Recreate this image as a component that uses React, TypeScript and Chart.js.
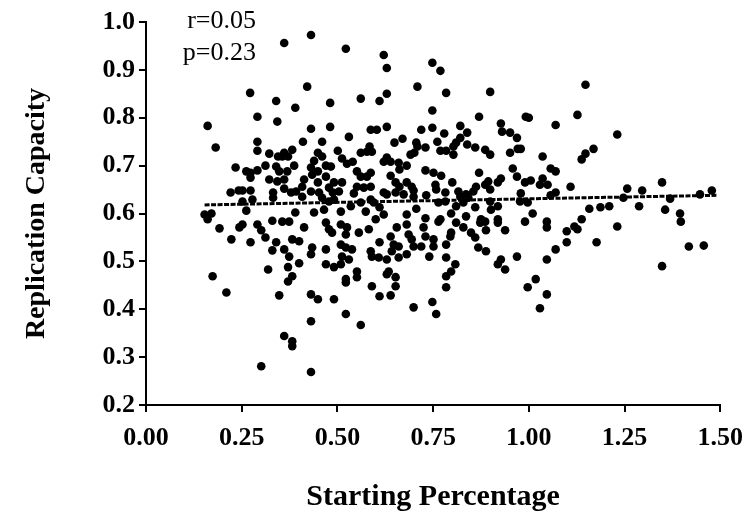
import React, { useEffect, useRef } from 'react';
import { Chart, registerables } from 'chart.js';
Chart.register(...registerables);

// [starting percentage, replication capacity]
const samples: [number, number][] = [
  [0.272,0.852],[0.340,0.835],[0.291,0.802],[0.161,0.783],[0.343,0.792],[0.182,0.738],[0.291,0.750],[0.291,0.731],[0.322,0.725],[0.345,0.719],[0.312,0.700],[0.340,0.698],[0.234,0.696],[0.262,0.688],[0.273,0.685],[0.291,0.690],[0.273,0.675],[0.322,0.671],[0.343,0.667],[0.221,0.644],[0.242,0.648],[0.252,0.648],[0.273,0.648],[0.332,0.644],[0.332,0.633],[0.252,0.625],[0.278,0.629],[0.153,0.598],[0.171,0.600],[0.262,0.606],
  [0.431,0.973],[0.361,0.956],[0.522,0.944],[0.421,0.865],[0.390,0.821],[0.481,0.831],[0.561,0.840],[0.431,0.777],[0.481,0.781],[0.410,0.750],[0.460,0.750],[0.530,0.760],[0.382,0.733],[0.361,0.727],[0.356,0.719],[0.371,0.719],[0.449,0.727],[0.460,0.719],[0.501,0.731],[0.561,0.727],[0.387,0.700],[0.439,0.710],[0.512,0.715],[0.525,0.704],[0.540,0.708],[0.470,0.700],[0.483,0.698],[0.431,0.696],[0.348,0.688],[0.369,0.688],[0.449,0.688],[0.434,0.681],[0.470,0.677],[0.551,0.688],[0.561,0.677],[0.413,0.671],[0.361,0.671],[0.449,0.665],[0.491,0.665],[0.512,0.665],[0.408,0.656],[0.392,0.646],[0.379,0.644],[0.361,0.652],[0.431,0.646],[0.452,0.644],[0.478,0.654],[0.488,0.644],[0.504,0.646],[0.551,0.656],[0.543,0.642],[0.408,0.635],[0.460,0.633],[0.478,0.625],[0.491,0.629],[0.561,0.623],[0.535,0.615],[0.390,0.602],[0.439,0.602],[0.465,0.608],[0.509,0.604],
  [0.621,0.931],[0.629,0.904],[0.748,0.915],[0.769,0.898],[0.709,0.865],[0.784,0.852],[0.629,0.850],[0.610,0.835],[0.748,0.815],[0.587,0.775],[0.603,0.775],[0.629,0.781],[0.719,0.775],[0.748,0.779],[0.779,0.767],[0.649,0.748],[0.670,0.756],[0.706,0.748],[0.709,0.740],[0.761,0.750],[0.584,0.740],[0.590,0.729],[0.577,0.729],[0.730,0.738],[0.769,0.731],[0.784,0.731],[0.691,0.723],[0.701,0.727],[0.629,0.717],[0.621,0.708],[0.639,0.708],[0.660,0.706],[0.662,0.692],[0.681,0.700],[0.587,0.685],[0.577,0.677],[0.730,0.690],[0.751,0.685],[0.771,0.679],[0.639,0.679],[0.652,0.665],[0.662,0.656],[0.681,0.665],[0.694,0.656],[0.699,0.648],[0.569,0.654],[0.587,0.656],[0.621,0.644],[0.629,0.640],[0.756,0.660],[0.758,0.650],[0.782,0.644],[0.587,0.629],[0.595,0.623],[0.652,0.644],[0.673,0.640],[0.699,0.635],[0.732,0.638],[0.764,0.623],[0.782,0.625],[0.574,0.604],[0.610,0.613],[0.621,0.598],[0.681,0.598],[0.706,0.610],
  [0.899,0.854],[0.870,0.802],[0.992,0.802],[1.000,0.800],[0.821,0.783],[0.927,0.788],[0.930,0.771],[0.951,0.769],[0.839,0.769],[0.969,0.758],[0.821,0.758],[0.810,0.748],[0.803,0.740],[0.839,0.744],[0.860,0.738],[0.886,0.733],[0.899,0.723],[0.971,0.735],[0.979,0.735],[0.951,0.727],[0.803,0.723],[0.958,0.694],[0.870,0.685],[0.969,0.677],[0.927,0.673],[0.990,0.665],[1.005,0.669],[0.800,0.665],[0.894,0.667],[0.886,0.660],[0.899,0.650],[0.919,0.665],[0.862,0.656],[0.855,0.646],[0.979,0.642],[0.816,0.646],[0.821,0.635],[0.836,0.640],[0.842,0.633],[0.829,0.623],[0.810,0.615],[0.899,0.625],[0.901,0.608],[0.860,0.613],[0.919,0.615],[0.977,0.625],[0.997,0.623],[0.797,0.600],
  [1.148,0.869],[1.127,0.806],[1.070,0.785],[1.231,0.765],[1.036,0.719],[1.169,0.735],[1.148,0.725],[1.138,0.713],[1.057,0.694],[1.070,0.688],[1.036,0.673],[1.029,0.660],[1.049,0.660],[1.109,0.656],[1.057,0.638],[1.070,0.644],[1.010,0.600],[1.158,0.610],[1.187,0.613],[1.210,0.615],
  [1.348,0.665],[1.257,0.652],[1.296,0.648],[1.247,0.633],[1.369,0.631],[1.447,0.640],[1.478,0.648],[1.288,0.615],[1.356,0.608],[1.395,0.600],
  [0.161,0.588],[0.192,0.569],[0.244,0.571],[0.252,0.577],[0.291,0.577],[0.301,0.565],[0.312,0.550],[0.330,0.585],[0.340,0.540],[0.330,0.523],[0.223,0.546],[0.273,0.540],[0.319,0.483],[0.174,0.469],[0.210,0.435],[0.348,0.429],[0.301,0.281],
  [0.374,0.583],[0.356,0.583],[0.413,0.571],[0.470,0.581],[0.478,0.567],[0.486,0.560],[0.509,0.577],[0.525,0.571],[0.522,0.556],[0.556,0.560],[0.382,0.546],[0.400,0.542],[0.434,0.529],[0.431,0.515],[0.361,0.525],[0.374,0.510],[0.470,0.525],[0.509,0.535],[0.522,0.529],[0.538,0.525],[0.512,0.510],[0.530,0.504],[0.400,0.496],[0.470,0.494],[0.491,0.488],[0.509,0.494],[0.371,0.488],[0.382,0.469],[0.371,0.458],[0.522,0.463],[0.522,0.456],[0.551,0.479],[0.551,0.467],[0.431,0.431],[0.449,0.421],[0.491,0.421],[0.522,0.390],[0.431,0.375],[0.561,0.367],[0.361,0.344],[0.382,0.333],[0.382,0.323],[0.431,0.269],
  [0.600,0.588],[0.730,0.590],[0.725,0.571],[0.764,0.583],[0.769,0.588],[0.582,0.567],[0.655,0.571],[0.639,0.552],[0.647,0.535],[0.660,0.531],[0.681,0.577],[0.686,0.556],[0.694,0.546],[0.699,0.531],[0.730,0.552],[0.719,0.531],[0.751,0.546],[0.751,0.531],[0.784,0.535],[0.610,0.540],[0.587,0.521],[0.590,0.510],[0.642,0.521],[0.608,0.508],[0.629,0.504],[0.660,0.508],[0.681,0.515],[0.740,0.510],[0.784,0.508],[0.634,0.479],[0.629,0.473],[0.652,0.467],[0.784,0.469],[0.590,0.448],[0.652,0.448],[0.784,0.446],[0.610,0.427],[0.639,0.429],[0.699,0.404],[0.748,0.415],[0.758,0.390],
  [0.836,0.594],[0.810,0.581],[0.829,0.571],[0.873,0.581],[0.886,0.583],[0.875,0.588],[0.919,0.588],[0.919,0.581],[0.990,0.583],[0.797,0.560],[0.795,0.552],[0.849,0.560],[0.860,0.550],[0.888,0.565],[0.938,0.565],[0.868,0.529],[0.888,0.521],[0.808,0.494],[0.927,0.504],[0.919,0.494],[0.938,0.483],[0.969,0.510],[0.797,0.479],[0.997,0.446],
  [1.047,0.583],[1.047,0.571],[1.119,0.573],[1.138,0.588],[1.127,0.567],[1.099,0.563],[1.099,0.540],[1.070,0.525],[1.177,0.540],[1.231,0.573],[1.047,0.504],[1.018,0.463],[1.047,0.431],[1.029,0.402],
  [1.397,0.583],[1.418,0.531],[1.457,0.533],[1.348,0.490],
];

// linear fit line end points
const fitX = [0.153, 1.49];
const fitY = [0.618, 0.638];

const xTickValues = [0, 0.25, 0.5, 0.75, 1.0, 1.25, 1.5];
const yTickValues = [0.2, 0.3, 0.4, 0.5, 0.6, 0.7, 0.8, 0.9, 1.0];
const statLines = ['r=0.05', 'p=0.23'];

const xTitle = 'Starting Percentage';
const yTitle = 'Replication Capacity';

export default function App() {
  const ref = useRef<HTMLCanvasElement>(null);
  useEffect(() => {
    document.body.style.margin = '0';
    const statsPlugin = {
      id: 'stats',
      afterDraw(chart: any) {
        const ctx = chart.ctx;
        ctx.save();
        ctx.fillStyle = '#000';
        ctx.font = '26px "Liberation Serif"';
        ctx.textAlign = 'right';
        ctx.textBaseline = 'alphabetic';
        ctx.fillText(statLines[0], 256, 28);
        ctx.fillText(statLines[1], 256, 60);
        ctx.restore();
      },
    };
    const chart = new Chart(ref.current as HTMLCanvasElement, {
      type: 'scatter',
      data: {
        datasets: [
          {
            data: samples.map(([x, y]) => ({ x, y })),
            pointRadius: 4.3,
            pointHoverRadius: 4.3,
            backgroundColor: '#000',
            borderWidth: 0,
          },
          {
            type: 'line',
            data: fitX.map((x, i) => ({ x, y: fitY[i] })),
            borderColor: '#000',
            borderWidth: 3,
            borderDash: [5, 1.5],
            pointRadius: 0,
            fill: false,
          } as any,
        ],
      },
      options: {
        responsive: false,
        animation: false,
        layout: { padding: { left: 0, right: 31, top: 22, bottom: 0 } },
        plugins: { legend: { display: false }, tooltip: { enabled: false } },
        scales: {
          x: {
            type: 'linear',
            min: 0,
            max: 1.5,
            afterBuildTicks: (s: any) => { s.ticks = xTickValues.map((v) => ({ value: v })); },
            afterFit: (s: any) => { s.height = 120; },
            ticks: {
              callback: (v: any) => Number(v).toFixed(2),
              font: { family: 'Liberation Serif', weight: 'bold', size: 26 },
              color: '#000',
              padding: 11,
              maxRotation: 0,
              autoSkip: false,
            },
            grid: { drawOnChartArea: false, color: '#000', lineWidth: 2, tickLength: 7 },
            border: { color: '#000', width: 2 },
            title: {
              display: true,
              text: xTitle,
              color: '#000',
              font: { family: 'Liberation Serif', weight: 'bold', size: 30 },
              padding: { top: 0, bottom: 10 },
            },
          },
          y: {
            type: 'linear',
            min: 0.2,
            max: 1.0,
            afterBuildTicks: (s: any) => { s.ticks = yTickValues.map((v) => ({ value: v })); },
            afterFit: (s: any) => { s.width = 146; },
            ticks: {
              callback: (v: any) => Number(v).toFixed(1),
              font: { family: 'Liberation Serif', weight: 'bold', size: 26 },
              color: '#000',
              padding: 4,
              autoSkip: false,
            },
            grid: { drawOnChartArea: false, color: '#000', lineWidth: 2, tickLength: 7 },
            border: { color: '#000', width: 2 },
            title: {
              display: true,
              text: yTitle,
              color: '#000',
              font: { family: 'Liberation Serif', weight: 'bold', size: 28 },
              padding: { top: 20, bottom: 0 },
            },
          },
        },
      },
      plugins: [statsPlugin],
    });
    return () => chart.destroy();
  }, []);
  return (
    <div style={{ width: 754, height: 525 }}>
      <canvas ref={ref} width={754} height={525} />
    </div>
  );
}
